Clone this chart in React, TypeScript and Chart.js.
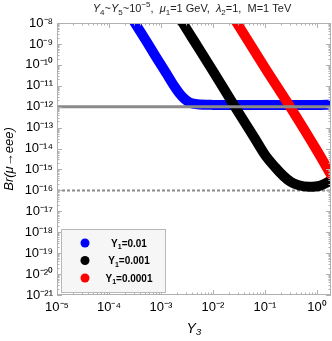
import React, { useEffect, useRef } from 'react';
import { Chart, registerables } from 'chart.js';
Chart.register(...registerables);

// ---- data ----
const blueY3 = [2.51e-4, 3.16e-4, 5.01e-4, 7.94e-4, 1.26e-3, 1.78e-3, 2.24e-3, 2.82e-3, 3.55e-3, 5.0e-3, 1.0e-2, 1.0e-1, 1.0, 1.86];
const blueBr = [2.5e-8, 1.0e-8, 1.6e-9, 2.5e-10, 4.0e-11, 1.0e-11, 4.5e-12, 2.4e-12, 1.6e-12, 1.3e-12, 1.22e-12, 1.2e-12, 1.2e-12, 1.25e-12];

const blackY3 = [2.0e-3, 2.63e-3, 5.0e-3, 1.0e-2, 2.63e-2, 6.3e-2, 1.0e-1, 1.58e-1, 2.24e-1, 3.16e-1, 4.47e-1, 7.08e-1, 1.12, 1.58, 1.86];
const blackBr = [3.2e-8, 1.0e-8, 7.9e-10, 5.0e-11, 1.0e-12, 3.2e-14, 5.0e-15, 1.26e-15, 5.0e-16, 2.5e-16, 1.75e-16, 1.5e-16, 1.65e-16, 2.4e-16, 3.1e-16];

const redY3 = [2.24e-2, 2.88e-2, 1.0e-1, 3.02e-1, 1.0, 1.86];
const redBr = [2.8e-8, 1.0e-8, 7.1e-11, 1.0e-12, 7.9e-15, 5.6e-16];

const limitNow = 1e-12;
const limitFuture = 1e-16;

const xTicks = [1e-5, 1e-4, 1e-3, 1e-2, 1e-1, 1];
const yTicks = [1e-21, 1e-20, 1e-19, 1e-18, 1e-17, 1e-16, 1e-15, 1e-14, 1e-13, 1e-12, 1e-11, 1e-10, 1e-9, 1e-8];
const xMin = 1e-5, xMax = 1.86, yMin = 1e-21, yMax = 1e-8;

const seriesY1 = ['0.01', '0.001', '0.0001'];
const seriesColors = ['#0000ff', '#000000', '#ff0000'];

const FONT = "'Liberation Sans', Arial, Helvetica, sans-serif";

type Seg = { t: string; s?: 'i' | 'sub' | 'sup' };
const titleSegs: Seg[] = [
  { t: 'Y', s: 'i' }, { t: '4', s: 'sub' }, { t: '~' }, { t: 'Y', s: 'i' }, { t: '5', s: 'sub' },
  { t: '~10' }, { t: '\u22125', s: 'sup' }, { t: ',  ' }, { t: '\u03bc', s: 'i' }, { t: '1', s: 'sub' },
  { t: '=1 GeV,  ' }, { t: '\u03bb', s: 'i' }, { t: '2', s: 'sub' }, { t: '=1,  M=1 TeV' },
];

const SUP: Record<string, string> = {
  '0': '\u2070', '1': '\u00b9', '2': '\u00b2', '3': '\u00b3', '4': '\u2074', '5': '\u2075',
  '6': '\u2076', '7': '\u2077', '8': '\u2078', '9': '\u2079', '-': '\u207b',
};
const pow10Label = (v: number) =>
  '10' + String(Math.round(Math.log10(v))).split('').map((c) => SUP[c] || c).join('');

function segFont(seg: Seg, size: number, bold: boolean) {
  const small = seg.s === 'sub' || seg.s === 'sup';
  const sz = small ? Math.round(size * 0.72) : size;
  return `${seg.s === 'i' ? 'italic ' : ''}${bold ? 'bold ' : ''}${sz}px ${FONT}`;
}

function drawRich(ctx: CanvasRenderingContext2D, segs: Seg[], cx: number, baseY: number, size: number, bold: boolean, color: string) {
  ctx.save();
  ctx.textBaseline = 'alphabetic';
  ctx.textAlign = 'left';
  ctx.fillStyle = color;
  let total = 0;
  const widths = segs.map((s) => {
    ctx.font = segFont(s, size, bold);
    const w = ctx.measureText(s.t).width;
    total += w;
    return w;
  });
  let x = cx - total / 2;
  segs.forEach((s, i) => {
    ctx.font = segFont(s, size, bold);
    const dy = s.s === 'sub' ? size * 0.28 : s.s === 'sup' ? -size * 0.42 : 0;
    ctx.fillText(s.t, x, baseY + dy);
    x += widths[i];
  });
  ctx.restore();
}

const framePlugin = {
  id: 'mmaFrame',
  afterDatasetsDraw(chart: any) {
    const { ctx, chartArea: a, scales } = chart;
    const xs = scales.x, ys = scales.y;
    ctx.save();
    ctx.strokeStyle = '#b0b0b0';
    ctx.lineWidth = 1;
    ctx.strokeRect(a.left + 0.5, a.top + 0.5, a.right - a.left - 1, a.bottom - a.top - 1);
    ctx.beginPath();
    for (let e = -6; e <= 1; e++) {
      for (let m = 1; m <= 9; m++) {
        const v = m * Math.pow(10, e);
        if (v >= xMin * 0.999 && v <= xMax) {
          const px = Math.round(xs.getPixelForValue(v)) + 0.5;
          const len = m === 1 ? 5 : 2.5;
          ctx.moveTo(px, a.bottom);
          ctx.lineTo(px, a.bottom - len);
          ctx.moveTo(px, a.top);
          ctx.lineTo(px, a.top + len);
        }
      }
    }
    for (let e = -22; e <= -7; e++) {
      for (let m = 1; m <= 9; m++) {
        const v = m * Math.pow(10, e);
        if (v >= yMin * 0.999 && v <= yMax * 1.001) {
          const py = Math.round(ys.getPixelForValue(v)) + 0.5;
          const len = m === 1 ? 5 : 2.5;
          ctx.moveTo(a.left, py);
          ctx.lineTo(a.left + len, py);
          ctx.moveTo(a.right, py);
          ctx.lineTo(a.right - len, py);
        }
      }
    }
    ctx.stroke();
    ctx.restore();
  },
  afterDraw(chart: any) {
    const { ctx, chartArea: a } = chart;
    // title
    drawRich(ctx, titleSegs, (a.left + a.right) / 2 - 2, 12, 11, false, '#222');
    // legend box
    const bx = a.left + 4, by = a.top + 206, bw = 105, bh = 64;
    ctx.save();
    ctx.fillStyle = '#f6f6f6';
    ctx.fillRect(bx, by, bw, bh);
    ctx.strokeStyle = '#b8b8b8';
    ctx.lineWidth = 1;
    ctx.strokeRect(bx + 0.5, by + 0.5, bw - 1, bh - 1);
    seriesY1.forEach((val, i) => {
      const cy = by + 14 + i * 17.5;
      ctx.beginPath();
      ctx.fillStyle = seriesColors[i];
      ctx.arc(bx + 24, cy, 4.5, 0, Math.PI * 2);
      ctx.fill();
      drawRich(ctx, [{ t: 'Y' }, { t: '1', s: 'sub' }, { t: '=' + val }], bx + 68, cy + 3.5, 10, true, '#000');
    });
    ctx.restore();
  },
};

export default function App() {
  const ref = useRef<HTMLCanvasElement | null>(null);
  useEffect(() => {
    if (!ref.current) return;
    Chart.defaults.font.family = FONT;
    const pts = (xs: number[], ys: number[]) => xs.map((x, i) => ({ x, y: ys[i] }));
    const band = (xs: number[], ys: number[], color: string) => ({
      data: pts(xs, ys),
      borderColor: color,
      backgroundColor: color,
      borderWidth: 10,
      pointRadius: 0,
      borderCapStyle: 'round' as const,
      borderJoinStyle: 'round' as const,
      cubicInterpolationMode: 'monotone' as const,
      clip: 0,
      fill: false,
    });
    const chart = new Chart(ref.current, {
      type: 'line',
      data: {
        datasets: [
          {
            data: [{ x: xMin, y: limitNow }, { x: xMax, y: limitNow }],
            borderColor: '#8a8a8a', borderWidth: 3, pointRadius: 0, clip: 0, fill: false,
          },
          band(redY3, redBr, seriesColors[2]),
          band(blackY3, blackBr, seriesColors[1]),
          band(blueY3, blueBr, seriesColors[0]),
          {
            data: [{ x: xMin, y: limitFuture }, { x: xMax, y: limitFuture }],
            borderColor: '#8a8a8a', borderWidth: 2, borderDash: [3, 2], pointRadius: 0, clip: 0, fill: false,
          },
        ] as any,
      },
      options: {
        responsive: false,
        animation: false,
        events: [],
        layout: { padding: { left: 0, right: 1, top: 23, bottom: 0 } },
        plugins: { legend: { display: false }, title: { display: false }, tooltip: { enabled: false } },
        scales: {
          x: {
            type: 'logarithmic',
            min: xMin,
            max: xMax,
            afterBuildTicks: (s: any) => { s.ticks = xTicks.map((v) => ({ value: v })); },
            afterFit: (s: any) => { s.height = 46; },
            ticks: {
              callback: (v: any) => pow10Label(Number(v)),
              font: { size: 13, family: FONT },
              color: '#000',
              padding: 5,
              maxRotation: 0,
              autoSkip: false,
            },
            grid: { display: false, drawTicks: false },
            border: { display: false },
            title: { display: true, text: 'Y\u2083', font: { size: 14, style: 'italic', family: FONT }, color: '#000', padding: { top: 0, bottom: 3 } },
          },
          y: {
            type: 'logarithmic',
            min: yMin,
            max: yMax,
            afterBuildTicks: (s: any) => { s.ticks = yTicks.map((v) => ({ value: v })); },
            afterFit: (s: any) => { s.width = 57; },
            ticks: {
              callback: (v: any) => pow10Label(Number(v)),
              font: { size: 13, family: FONT },
              color: '#000',
              padding: 4,
              autoSkip: false,
            },
            grid: { display: false, drawTicks: false },
            border: { display: false },
            title: { display: true, text: 'Br(\u03bc\u2192eee)', font: { size: 13, style: 'italic', family: FONT }, color: '#000', padding: { top: 2, bottom: 0 } },
          },
        },
      } as any,
      plugins: [framePlugin],
    });
    return () => chart.destroy();
  }, []);
  return (
    <div style={{ position: 'absolute', left: 0, top: 0, width: 332, height: 341, background: '#fff' }}>
      <canvas ref={ref} width={332} height={341} style={{ display: 'block' }} />
    </div>
  );
}
